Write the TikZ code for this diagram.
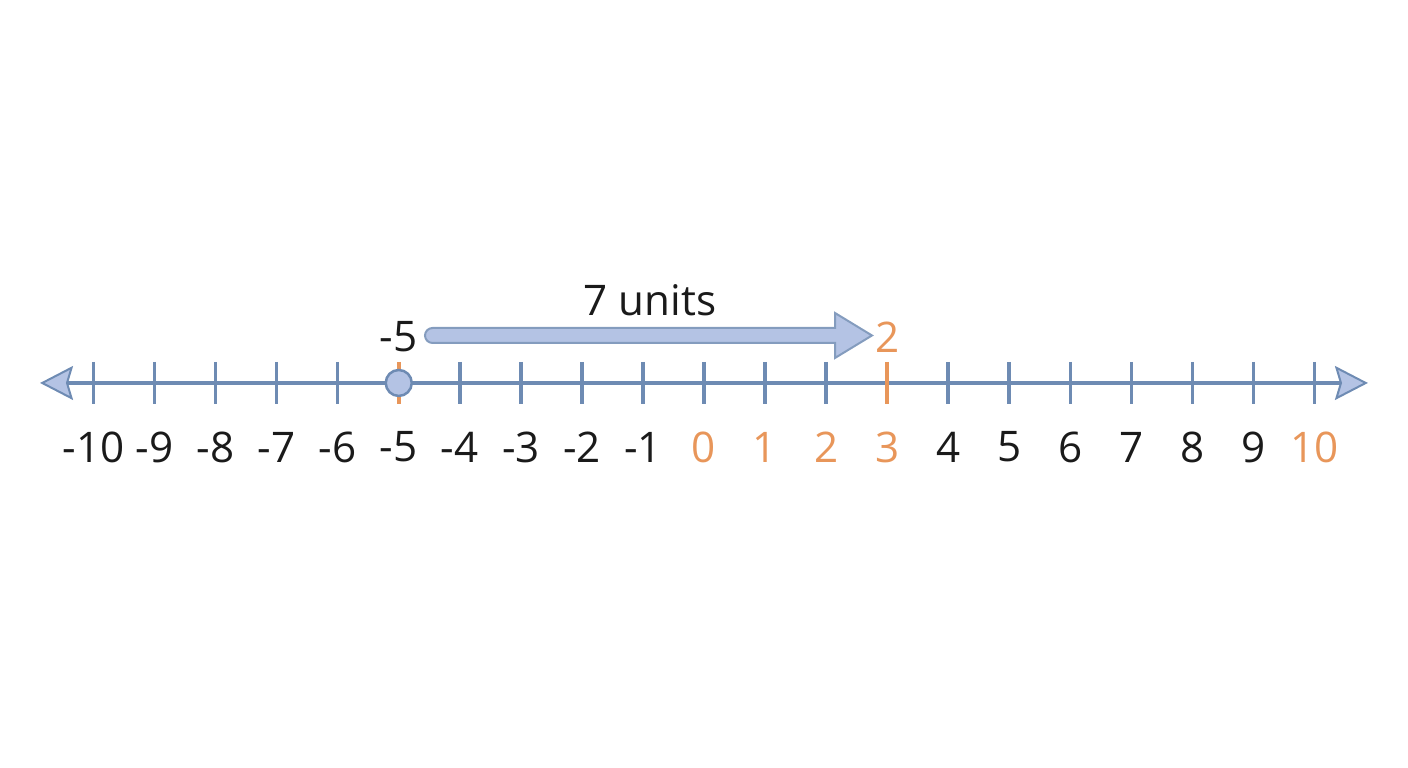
\documentclass[tikz,border=0pt]{standalone}
\usepackage{fontspec}
\setmainfont{Open Sans}
\usetikzlibrary{arrows.meta}
\definecolor{lineblue}{HTML}{6E8BB3}
\definecolor{fillblue}{HTML}{B4C3E4}
\definecolor{numorange}{HTML}{E8965A}
\definecolor{numblack}{HTML}{1A1A1A}
\tikzset{
  axisline/.style={lineblue,line width=0.035cm},
  tickmark/.style={line width=0.035cm},
  numlabel/.style={font=\fontsize{12}{14}\selectfont,inner sep=0pt},
  bigarrow/.style={draw=lineblue!85,fill=fillblue,line width=0.02cm,line join=miter},
  axistip/.tip={Stealth[length=0.33cm,width=0.34cm,inset=0.05cm,fill=fillblue,line width=0.02cm]},
}

\begin{document}
\begin{tikzpicture}[x=0.6105cm,y=1cm]
			\useasboundingbox (-11.532,-3.85) rectangle (11.532,3.83);
			\coordinate (lend) at (-10.876,0);
			\coordinate (rend) at (10.876,0);
			\draw[axisline,axistip-axistip] (lend) -- (rend);
			% ticks
			\foreach \n/\col in {-10/lineblue,-9/lineblue,-8/lineblue,-7/lineblue,-6/lineblue,-5/numorange,-4/lineblue,-3/lineblue,-2/lineblue,-1/lineblue,0/lineblue,1/lineblue,2/lineblue,3/numorange,4/lineblue,5/lineblue,6/lineblue,7/lineblue,8/lineblue,9/lineblue,10/lineblue}
				\draw[tickmark,\col] (\n,0.21) -- (\n,-0.21);
			% labels
			\foreach \n/\col in {-10/numblack,-9/numblack,-8/numblack,-7/numblack,-6/numblack,-5/numblack,-4/numblack,-3/numblack,-2/numblack,-1/numblack,0/numorange,1/numorange,2/numorange,3/numorange,4/numblack,5/numblack,6/numblack,7/numblack,8/numblack,9/numblack,10/numorange}
				\node[numlabel,text=\col] (n\n) at (\n,-0.64) {\n};
			\node[circle,draw=lineblue,fill=fillblue,line width=0.025cm,minimum size=0.26cm,inner sep=0pt] (start) at (-5,0) {};
			% the move
			\draw[bigarrow] (-4.447,0.40) arc[start angle=270,end angle=90,radius=0.075cm]
				-- (2.146,0.55) -- (2.146,0.70) -- (2.752,0.475) -- (2.146,0.25) -- (2.146,0.40) -- cycle;
			\node[numlabel,text=numblack] (from) at (-5,0.46) {-5};
			\node[numlabel,text=numorange] (to) at (3,0.46) {2};
			\node[numlabel,text=numblack] (units) at (-0.885,0.83) {7 units};
		\end{tikzpicture}
\end{document}
